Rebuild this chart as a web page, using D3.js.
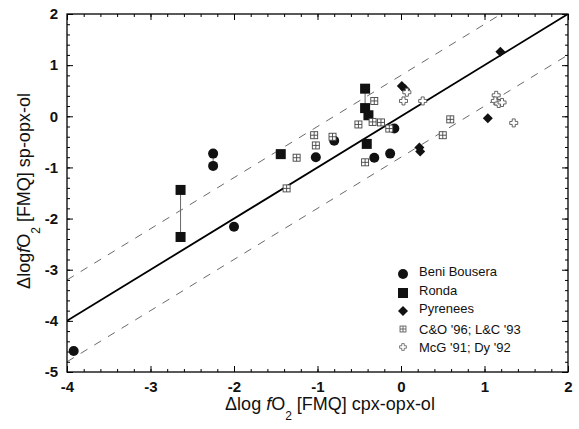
<!DOCTYPE html>
<html>
<head>
<meta charset="utf-8">
<script src="https://cdn.jsdelivr.net/npm/d3@7"></script>
<style>
  body { margin: 0; background: #fff; }
  svg { display: block; }
</style>
</head>
<body>
<div id="chart"></div>
<script>
// values: [x (cpx-opx-ol), y (sp-opx-ol)]
const beniBousera = [[-2.25, -0.73], [-2.25, -0.97], [-2.00, -2.16], [-3.92, -4.59], [-1.02, -0.80],
    [-0.80, -0.48], [-0.32, -0.81], [-0.13, -0.73], [-0.08, -0.24]];
const ronda = [[-2.64, -1.44], [-2.64, -2.36], [-1.44, -0.74], [-0.43, 0.54], [-0.43, 0.16],
    [-0.39, 0.02], [-0.41, -0.54]];
const pyrenees = [[1.19, 1.26], [0.01, 0.59], [0.05, 0.53], [0.22, -0.61], [0.23, -0.69], [1.04, -0.04]];
const coLc = [[-1.37, -1.41], [-1.25, -0.81], [-1.04, -0.37], [-1.02, -0.57], [-0.82, -0.40],
    [-0.51, -0.16], [-0.34, -0.11], [-0.24, -0.12], [-0.14, -0.24], [-0.32, 0.30], [-0.43, -0.90],
    [0.59, -0.06], [0.50, -0.37]];
const mcgDy = [[0.07, 0.47], [0.03, 0.30], [0.26, 0.30], [1.14, 0.41], [1.13, 0.30], [1.17, 0.25],
    [1.21, 0.27], [1.35, -0.13]];
// vertical tie lines: [x, y1, y2]
const tieLines = [[-2.25, -0.73, -0.97], [-2.64, -1.44, -2.36], [-0.43, 0.54, 0.16]];
// 1:1 line and +/- offsets of the dashed lines
const lineOffsets = [0, 0.8, -0.8];
const xTicks = [-4, -3, -2, -1, 0, 1, 2];
const yTicks = [-5, -4, -3, -2, -1, 0, 1, 2];
const legendNames = ["Beni Bousera", "Ronda", "Pyrenees", "C&O '96; L&C '93", "McG '91; Dy '92"];

const width = 579, height = 429;
const mLeft = 67, mRight = 568, mTop = 14, mBottom = 372;

const svg = d3.select("#chart").append("svg")
    .attr("width", width)
    .attr("height", height)
    .style("font-family", "'Liberation Sans', Arial, Helvetica, sans-serif");

const x = d3.scaleLinear().domain([-4, 2]).range([mLeft, mRight]);
const y = d3.scaleLinear().domain([-5, 2]).range([mBottom, mTop]);

const minorX = d3.range(-4, 2.001, 0.2).map(v => +v.toFixed(1));
const minorY = d3.range(-5, 2.001, 0.2).map(v => +v.toFixed(1));

// axes with inward ticks on all four sides
function addAxis(axisFn, scale, tr, values, size, labels) {
    const g = svg.append("g").attr("transform", tr)
        .call(axisFn(scale).tickValues(values).tickSize(-size).tickPadding(labels ? 9 : 0)
            .tickFormat(labels ? (d => String(d)) : ""));
    g.select(".domain").remove();
    g.selectAll(".tick line").attr("stroke", "#000").attr("stroke-width", 1);
    return g;
}
addAxis(d3.axisBottom, x, `translate(0,${mBottom})`, minorX, 3, false);
addAxis(d3.axisTop, x, `translate(0,${mTop})`, minorX, 3, false);
addAxis(d3.axisLeft, y, `translate(${mLeft},0)`, minorY, 3, false);
addAxis(d3.axisRight, y, `translate(${mRight},0)`, minorY, 3, false);
addAxis(d3.axisTop, x, `translate(0,${mTop})`, xTicks, 6, false);
addAxis(d3.axisRight, y, `translate(${mRight},0)`, yTicks, 6, false);

const xAx = addAxis(d3.axisBottom, x, `translate(0,${mBottom})`, xTicks, 6, true);
xAx.selectAll(".tick text").attr("y", 9).attr("font-size", 15).attr("font-weight", "bold").attr("fill", "#111");
const yAx = addAxis(d3.axisLeft, y, `translate(${mLeft},0)`, yTicks, 6, true);
yAx.selectAll(".tick text").attr("x", -9).attr("font-size", 15).attr("font-weight", "bold").attr("fill", "#111");

// clip for the reference lines
svg.append("clipPath").attr("id", "plotclip")
    .append("rect").attr("x", mLeft).attr("y", mTop).attr("width", mRight - mLeft).attr("height", mBottom - mTop);

const line = d3.line().x(d => x(d[0])).y(d => y(d[1]));
svg.append("g").attr("clip-path", "url(#plotclip)")
    .selectAll("path")
    .data(lineOffsets)
    .enter()
    .append("path")
    .attr("d", o => line([[-4, -4 + o], [2, 2 + o]]))
    .attr("fill", "none")
    .attr("stroke", o => o === 0 ? "#000" : "#444")
    .attr("stroke-width", o => o === 0 ? 1.8 : 0.8)
    .attr("stroke-dasharray", o => o === 0 ? null : "8,8");

// frame
svg.append("rect")
    .attr("x", mLeft).attr("y", mTop)
    .attr("width", mRight - mLeft).attr("height", mBottom - mTop)
    .attr("fill", "none").attr("stroke", "#000").attr("stroke-width", 1.3);

// tie lines
svg.append("g").selectAll("line")
    .data(tieLines)
    .enter()
    .append("line")
    .attr("x1", d => x(d[0])).attr("x2", d => x(d[0]))
    .attr("y1", d => y(d[1])).attr("y2", d => y(d[2]))
    .attr("stroke", "#666").attr("stroke-width", 1);

// marker drawers
const markers = {
    circle: (g) => g.append("circle").attr("r", 5).attr("fill", "#111"),
    square: (g) => g.append("rect").attr("x", -5).attr("y", -5).attr("width", 10).attr("height", 10).attr("fill", "#111"),
    diamond: (g) => g.append("path").attr("d", "M0,-5L5,0L0,5L-5,0Z").attr("fill", "#111"),
    boxcross: (g) => {
        g.append("rect").attr("x", -3.5).attr("y", -3.5).attr("width", 7).attr("height", 7)
            .attr("fill", "#fff").attr("stroke", "#444").attr("stroke-width", 0.9);
        g.append("path").attr("d", "M-3.5,0H3.5M0,-3.5V3.5").attr("stroke", "#444").attr("stroke-width", 0.9);
    },
    opencross: (g) => g.append("path")
        .attr("d", "M-1.5,-4H1.5V-1.5H4V1.5H1.5V4H-1.5V1.5H-4V-1.5H-1.5Z")
        .attr("fill", "#fff").attr("stroke", "#555").attr("stroke-width", 0.9)
};

const series = [
    { data: beniBousera, shape: "circle" },
    { data: ronda, shape: "square" },
    { data: pyrenees, shape: "diamond" },
    { data: coLc, shape: "boxcross" },
    { data: mcgDy, shape: "opencross" }
];

series.forEach(s => {
    svg.append("g").selectAll("g")
        .data(s.data)
        .enter()
        .append("g")
        .attr("transform", d => `translate(${x(d[0])},${y(d[1])})`)
        .each(function() { markers[s.shape](d3.select(this)); });
});

// legend
const legendY = [274, 293, 311, 329, 347];
const legendTextY = [271, 290, 308, 329, 347];
series.forEach((s, i) => {
    const g = svg.append("g").attr("transform", `translate(403,${legendY[i]})`);
    markers[s.shape](g);
    if (i === 3 || i === 4) g.attr("transform", `translate(403,${legendY[i]}) scale(0.85)`);
    svg.append("text")
        .attr("x", 419).attr("y", legendTextY[i]).attr("dy", "0.35em")
        .attr("font-size", 13).attr("fill", "#111")
        .text(legendNames[i]);
});

// axis titles
const xt = svg.append("text")
    .attr("x", 330).attr("y", 410)
    .attr("text-anchor", "middle").attr("font-size", 18).attr("fill", "#111");
xt.append("tspan").text("\u0394log ");
xt.append("tspan").attr("font-style", "italic").text("f");
xt.append("tspan").text("O");
xt.append("tspan").attr("font-size", 12).attr("dy", 10).text("2");
xt.append("tspan").attr("dy", -10).text(" [FMQ] cpx-opx-ol");

const yt = svg.append("text")
    .attr("transform", "translate(30,191) rotate(-90)")
    .attr("text-anchor", "middle").attr("font-size", 18).attr("fill", "#111");
yt.append("tspan").text("\u0394log");
yt.append("tspan").attr("font-style", "italic").text("f");
yt.append("tspan").text("O");
yt.append("tspan").attr("font-size", 12).attr("dy", 10).text("2");
yt.append("tspan").attr("dy", -10).text(" [FMQ] sp-opx-ol");
</script>
</body>
</html>
